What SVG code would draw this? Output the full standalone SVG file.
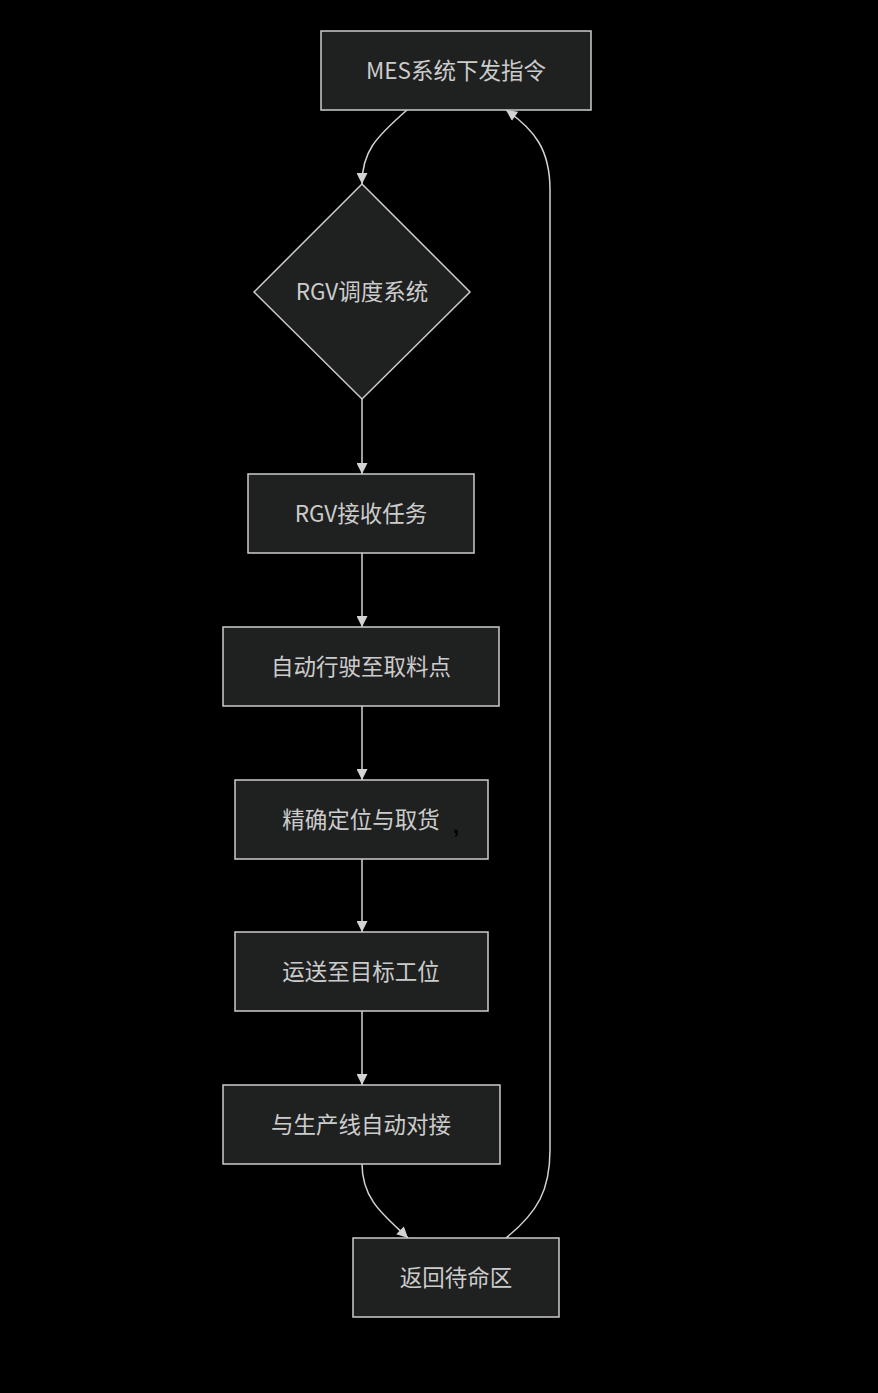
<svg xmlns="http://www.w3.org/2000/svg" width="878" height="1393" viewBox="0 0 878 1393">
<defs>
<style>
.node rect,.node polygon{fill:#1f2020;stroke:#cccccc;stroke-width:1.5}
.node text{fill:#cccccc;font-family:"Noto Sans CJK SC","Liberation Sans",sans-serif;font-size:22.5px;text-anchor:middle;dominant-baseline:central}
.edge{fill:none;stroke:#d3d3d3;stroke-width:1.5}
</style>
<marker id="arrow" viewBox="0 0 10 10" refX="10" refY="5" markerWidth="12" markerHeight="11" markerUnits="userSpaceOnUse" orient="auto">
<path d="M0,0 L10,5 L0,10 z" fill="#d3d3d3"/>
</marker>
</defs>
<rect width="878" height="1393" fill="#000"/>
<g id="connectors">
<path class="edge" d="M407,110 C375,138 362,152 362,184" marker-end="url(#arrow)"/>
<path class="edge" d="M362,399 L362,474" marker-end="url(#arrow)"/>
<path class="edge" d="M362,553 L362,627" marker-end="url(#arrow)"/>
<path class="edge" d="M362,706 L362,780" marker-end="url(#arrow)"/>
<path class="edge" d="M362,859 L362,932" marker-end="url(#arrow)"/>
<path class="edge" d="M362,1011 L362,1085" marker-end="url(#arrow)"/>
<path class="edge" d="M362,1164 C362,1200 385,1216 408,1238" marker-end="url(#arrow)"/>
<path class="edge" d="M506,1238 C538,1212 550,1190 550,1150 L550,190 C550,150 535,130 506,110" marker-end="url(#arrow)"/>
</g>
<g id="n1" class="node"><rect x="321" y="31" width="270" height="79"/><text x="456" y="68.5">MES系统下发指令</text></g>
<g id="n2" class="node"><polygon points="362,184 470,292 362,399 254,292"/><text x="362" y="290">RGV调度系统</text></g>
<g id="n3" class="node"><rect x="248" y="474" width="226" height="79"/><text x="361" y="511.5">RGV接收任务</text></g>
<g id="n4" class="node"><rect x="223" y="627" width="276" height="79"/><text x="361" y="664.5">自动行驶至取料点</text></g>
<g id="n5" class="node"><rect x="235" y="780" width="253" height="79"/><text x="361" y="817.5">精确定位与取货</text><text x="456" y="825" style="fill:#000;font-size:22px;font-weight:bold;font-family:'Liberation Sans',sans-serif">,</text></g>
<g id="n6" class="node"><rect x="235" y="932" width="253" height="79"/><text x="361" y="969.5">运送至目标工位</text></g>
<g id="n7" class="node"><rect x="223" y="1085" width="277" height="79"/><text x="361" y="1122.5">与生产线自动对接</text></g>
<g id="n8" class="node"><rect x="353" y="1238" width="206" height="79"/><text x="456" y="1275.5">返回待命区</text></g>
</svg>
